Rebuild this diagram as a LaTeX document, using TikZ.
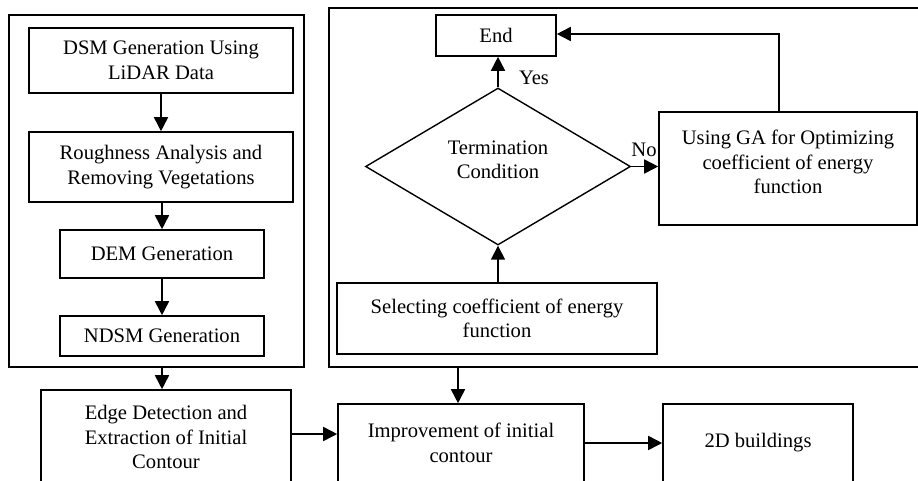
\documentclass[tikz,border=0pt]{standalone}
\usepackage{fontspec}
\setmainfont{Liberation Serif}
\usetikzlibrary{arrows.meta,shapes.geometric}
\begin{document}
\begin{tikzpicture}[x=1pt,y=-1pt,
  font=\fontsize{20.6}{24.5}\selectfont,
  box/.style={draw, line width=1.6pt, inner sep=0pt, align=center},
  frame/.style={draw, line width=2.2pt, inner sep=0pt},
  arr/.style={line width=1.7pt, -{Triangle[length=14pt,width=14pt]}},
  lbl/.style={align=center, inner sep=0pt},
]
\useasboundingbox (0,0) rectangle (918,480);
% frames
\node[frame, minimum width=295pt, minimum height=352pt] (outerL) at (156.5,191) {};
\node[frame, minimum width=593pt, minimum height=359pt] (outerR) at (625.5,187.5) {};
% left column
\node[box, minimum width=264pt, minimum height=65pt] (dsm) at (161,60.5) {DSM Generation Using\\LiDAR Data};
\node[box, minimum width=264pt, minimum height=70pt] (rough) at (161,167) {Roughness Analysis and\\Removing Vegetations};
\node[box, minimum width=204pt, minimum height=48pt] (dem) at (162,254) {DEM Generation};
\node[box, minimum width=204pt, minimum height=40pt] (ndsm) at (162,336) {NDSM Generation};
% right frame
\node[box, minimum width=120pt, minimum height=41pt] (endb) at (496,35.5) {End};
\node[draw, diamond, line width=1.4pt, inner sep=0pt, minimum width=265pt, minimum height=157pt,
      label={[lbl,yshift=6.5pt]center:Termination\\Condition}] (cond) at (498,166.5) {};
\node[box, minimum width=258pt, minimum height=113pt,
      label={[lbl,yshift=6.5pt]center:Using GA for Optimizing\\coefficient of energy\\function}] (ga) at (788,168.5) {};
\node[box, minimum width=320pt, minimum height=71pt] (sel) at (497,318.5) {Selecting coefficient of energy\\function};
% bottom row
\node[box, minimum width=250pt, minimum height=94pt] (edge) at (166,437) {Edge Detection and\\Extraction of Initial\\Contour};
\node[box, minimum width=246pt, minimum height=78pt] (impr) at (461,443) {Improvement of initial\\contour};
\node[box, minimum width=190pt, minimum height=78pt] (bld) at (758,443) {2D buildings};
% labels
\node (yes) at (534,78) {Yes};
\node (no) at (644,150) {No};
% connectors
\draw[arr] (dsm.south) -- (dsm.south |- rough.north);
\draw[arr] (rough.south -| dem.north) -- (dem.north);
\draw[arr] (dem.south) -- (ndsm.north);
\draw[arr] (outerL.south -| ndsm.south) -- (edge.north -| ndsm.south);
\draw[arr] (cond.north) -- (cond.north |- endb.south);
\draw[arr] (cond.east) -- (cond.east -| ga.west);
\coordinate (fb) at (779,34);
\draw[arr] (ga.north -| fb) -- (fb) -- (fb -| endb.east);
\draw[arr] (sel.north -| cond.south) -- (cond.south);
\coordinate (rd) at (458,380);
\draw[arr] (outerR.south -| rd) -- (impr.north -| rd);
\coordinate (h1) at (300,434);
\draw[arr] (edge.east |- h1) -- (impr.west |- h1);
\draw[arr] (impr.east) -- (bld.west);
\end{tikzpicture}
\end{document}
